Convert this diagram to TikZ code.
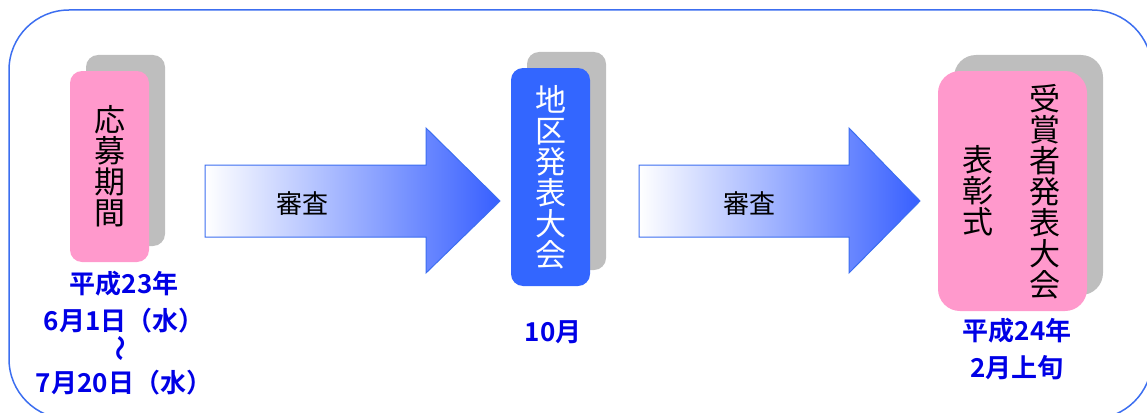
\documentclass[tikz,border=0pt]{standalone}
\usepackage{fontspec}
\newfontfamily\jp{Noto Sans CJK JP}[BoldFont={Noto Sans CJK JP Bold}]
\usetikzlibrary{shadows}
\definecolor{framebl}{RGB}{60,110,240}
\definecolor{boxpink}{RGB}{255,153,204}
\definecolor{boxblue}{RGB}{51,102,255}
\definecolor{datebl}{RGB}{0,0,230}
\definecolor{shadegray}{RGB}{190,190,190}
\definecolor{arrowbl}{RGB}{55,95,255}

\begin{document}
\begin{tikzpicture}[x=1pt,y=-1pt,
  stage/.style={rounded corners=12pt, minimum width=79pt, inner sep=0pt, align=center,
    copy shadow={shadow xshift=16pt, shadow yshift=16pt, fill=shadegray, draw=none},
    font=\jp\fontsize{31}{31}\selectfont},
  tate/.style={align=center, inner sep=0pt, font=\jp\fontsize{31}{31}\selectfont},
  date/.style={text=datebl, align=center, inner sep=0pt, font=\jp\bfseries\fontsize{26}{31}\selectfont},
  flow/.style={draw=framebl, line width=1pt, left color=white, right color=arrowbl},
  note/.style={font=\jp\fontsize{26}{26}\selectfont}]
    \useasboundingbox (0,0) rectangle (1147,412);
    \clip (0,0) rectangle (1147,412);
    \draw[framebl, line width=1.5pt, rounded corners=60pt] (9,10) rectangle (1152,419);

    \node[stage, fill=boxpink, minimum height=191pt] (entry) at (109.5,166.5) {応\\募\\期\\間};
    \node[stage, fill=boxblue, text=white, minimum height=218pt] (district) at (550.5,177) {地\\区\\発\\表\\大\\会};
    \node[stage, fill=boxpink, minimum width=149pt, minimum height=240pt, rounded corners=22pt] (award) at (1012.5,191) {};
    \node[tate] (awardL) at (978,191) {表\\彰\\式};
    \node[tate] (awardR) at (1045,191.5) {受\\賞\\者\\発\\表\\大\\会};

    \node[date] (entrydate) at (124,333) {平成23年\\[6pt]6月1日（水）\\\rotatebox{90}{～}\\7月20日（水）};
    \node[date] (districtdate) at (553,332) {10月};
    \node[date] (awarddate) at (1017,349.5) {平成24年\\[6pt]2月上旬};

    \draw[flow] (205,165) -- (426,165) -- (426,128) -- (500,201) -- (426,273) -- (426,237) -- (205,237) -- cycle;
    \node[note] (reviewA) at (302,204) {審査};
    \draw[flow] (639,165) -- (849,165) -- (849,128) -- (920,201) -- (849,273) -- (849,237) -- (639,237) -- cycle;
    \node[note] (reviewB) at (749,204) {審査};
\end{tikzpicture}
\end{document}
